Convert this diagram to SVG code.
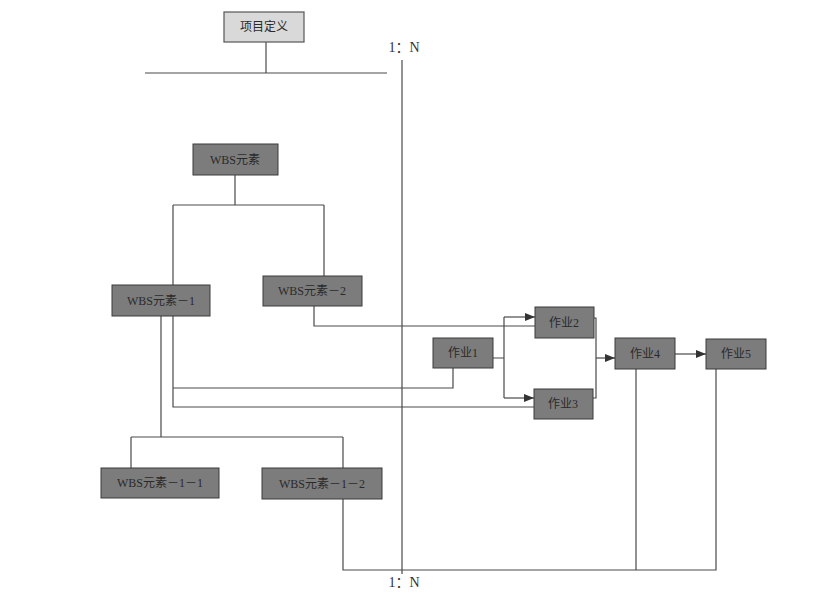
<svg xmlns="http://www.w3.org/2000/svg" width="824" height="602" viewBox="0 0 824 602">
<style>
.bx{fill:#7c7c7c;stroke:#3a3a3a;stroke-width:1}
.lt{fill:#d9d9d9;stroke:#555;stroke-width:1.2}
.t{font-family:"Liberation Serif","Noto Sans CJK SC",serif;font-size:12px;fill:#2a2a2a;text-anchor:middle;dominant-baseline:central}
.r{font-family:"Liberation Serif","Noto Sans CJK SC",serif;font-size:14px;fill:#333;text-anchor:middle;dominant-baseline:central}
.c{fill:none;stroke:#4a4a4a;stroke-width:1.2}
</style>
<defs>
<marker id="ah" viewBox="0 0 10 10" refX="10" refY="5" markerWidth="10" markerHeight="10" markerUnits="userSpaceOnUse" orient="auto">
<path d="M0,1 L10,5 L0,9 z" fill="#333"/>
</marker>
</defs>
<rect width="824" height="602" fill="#fff"/>
<g id="connectors">
<path class="c" d="M266,42 V73"/>
<path class="c" d="M145,73 H387"/>
<path class="c" d="M402,60 V574"/>
<path class="c" d="M235,175 V205 M173,205 H324 M173,205 V285 M324,205 V276"/>
<path class="c" d="M314,306 V326 H535"/>
<path class="c" d="M493,358 H504 M504,317 V398"/>
<path class="c" marker-end="url(#ah)" d="M504,317 H535"/>
<path class="c" marker-end="url(#ah)" d="M504,398 H534"/>
<path class="c" d="M173,316 V407 H534"/>
<path class="c" d="M173,388 H453 V368"/>
<path class="c" d="M161,316 V437 M131,437 H343 M131,437 V468 M343,437 V468"/>
<path class="c" d="M594,318 H596 V398 H593"/>
<path class="c" marker-end="url(#ah)" d="M596,358 H615"/>
<path class="c" marker-end="url(#ah)" d="M675,354 H706"/>
<path class="c" d="M343,499 V570 H716 V369 M636,369 V570"/>
</g>
<g id="n0"><rect class="lt" x="224" y="12" width="80" height="30"/><text class="t" x="264" y="27">项目定义</text></g>
<g id="n1"><rect class="bx" x="193" y="144" width="85" height="31"/><text class="t" x="235" y="160">WBS元素</text></g>
<g id="n2"><rect class="bx" x="112" y="285" width="98" height="31"/><text class="t" x="161" y="301">WBS元素－1</text></g>
<g id="n3"><rect class="bx" x="263" y="276" width="99" height="30"/><text class="t" x="312" y="291">WBS元素－2</text></g>
<g id="n4"><rect class="bx" x="101" y="468" width="118" height="30"/><text class="t" x="160" y="483">WBS元素－1－1</text></g>
<g id="n5"><rect class="bx" x="262" y="468" width="120" height="31"/><text class="t" x="322" y="484">WBS元素－1－2</text></g>
<g id="n6"><rect class="bx" x="433" y="338" width="60" height="30"/><text class="t" x="463" y="353">作业1</text></g>
<g id="n7"><rect class="bx" x="535" y="307" width="59" height="31"/><text class="t" x="564" y="323">作业2</text></g>
<g id="n8"><rect class="bx" x="534" y="389" width="59" height="30"/><text class="t" x="563" y="404">作业3</text></g>
<g id="n9"><rect class="bx" x="615" y="338" width="60" height="31"/><text class="t" x="645" y="354">作业4</text></g>
<g id="n10"><rect class="bx" x="706" y="339" width="60" height="30"/><text class="t" x="736" y="354">作业5</text></g>
<text class="r" x="404" y="47">1：N</text>
<text class="r" x="404" y="582">1：N</text>
</svg>
